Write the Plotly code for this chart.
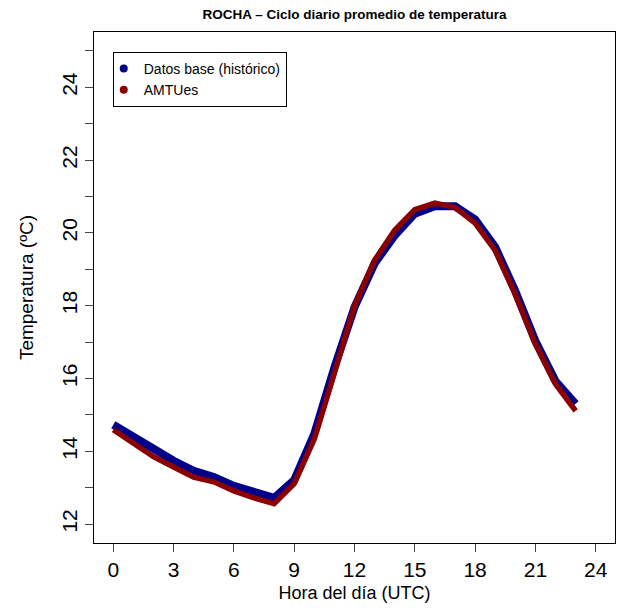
import plotly.graph_objects as go

hours = list(range(24))
base = [14.73, 14.38, 14.04, 13.74, 13.46, 13.29, 13.05, 12.86, 12.72, 13.21,
        14.48, 16.3, 17.96, 19.16, 19.93, 20.53, 20.73, 20.73, 20.37, 19.61,
        18.4, 17.03, 15.93, 15.3]
amtues = [14.59, 14.24, 13.85, 13.57, 13.29, 13.16, 12.91, 12.72, 12.56, 13.11,
          14.34, 16.15, 18.0, 19.25, 20.07, 20.64, 20.82, 20.7, 20.27, 19.52,
          18.31, 16.95, 15.85, 15.11]
x_ticks = [0, 3, 6, 9, 12, 15, 18, 21, 24]
y_ticks = list(range(12, 26))
y_ticklabels = [str(v) if v % 2 == 0 else "" for v in y_ticks]

BLUE = "#00008B"
RED = "#8B0000"
FONT = "Liberation Sans, Arial, sans-serif"

fig = go.Figure()
fig.add_trace(go.Scatter(x=hours, y=base, mode="lines", showlegend=False,
                         line=dict(color=BLUE, width=8)))
fig.add_trace(go.Scatter(x=hours, y=amtues, mode="lines", showlegend=False,
                         line=dict(color=RED, width=5.5)))
fig.add_trace(go.Scatter(x=[None], y=[None], mode="markers", name="Datos base (histórico)",
                         marker=dict(color=BLUE, size=8)))
fig.add_trace(go.Scatter(x=[None], y=[None], mode="markers", name="AMTUes",
                         marker=dict(color=RED, size=8)))

fig.update_layout(
    width=621, height=611,
    margin=dict(l=94, r=6, t=32, b=68),
    paper_bgcolor="white", plot_bgcolor="white",
    font=dict(family=FONT, color="black"),
    title=dict(text="<b>ROCHA – Ciclo diario promedio de temperatura</b>",
               x=(94 + 615) / 2 / 621, xanchor="center",
               y=1 - 14 / 611, yanchor="middle", yref="container",
               font=dict(size=13.5, family=FONT)),
    legend=dict(x=0.036, y=0.961, xanchor="left", yanchor="top",
                bordercolor="black", borderwidth=1, bgcolor="white",
                font=dict(size=14, family=FONT), tracegroupgap=0,
                itemwidth=30, indentation=-10),
    xaxis=dict(range=[-0.96, 24.96], tickvals=x_ticks, ticktext=[str(v) for v in x_ticks],
               showgrid=False, zeroline=False, showline=True, linecolor="black",
               linewidth=1, mirror=True, ticks="outside", ticklen=8, tickcolor="#444",
               automargin=False,
               tickfont=dict(size=21), title=dict(text="Hora del día (UTC)",
               font=dict(size=18), standoff=6)),
    yaxis=dict(range=[11.48, 25.52], tickvals=y_ticks, ticktext=y_ticklabels,
               showgrid=False, zeroline=False, showline=True, linecolor="black",
               linewidth=1, mirror=True, ticks="outside", ticklen=8, tickcolor="#444",
               automargin=False,
               tickangle=-90, tickfont=dict(size=21),
               title=dict(text="Temperatura (ºC)", font=dict(size=19), standoff=18)),
)

fig.write_html("out.html", config={"displayModeBar": False},
               post_script="document.body.style.margin='0';")
